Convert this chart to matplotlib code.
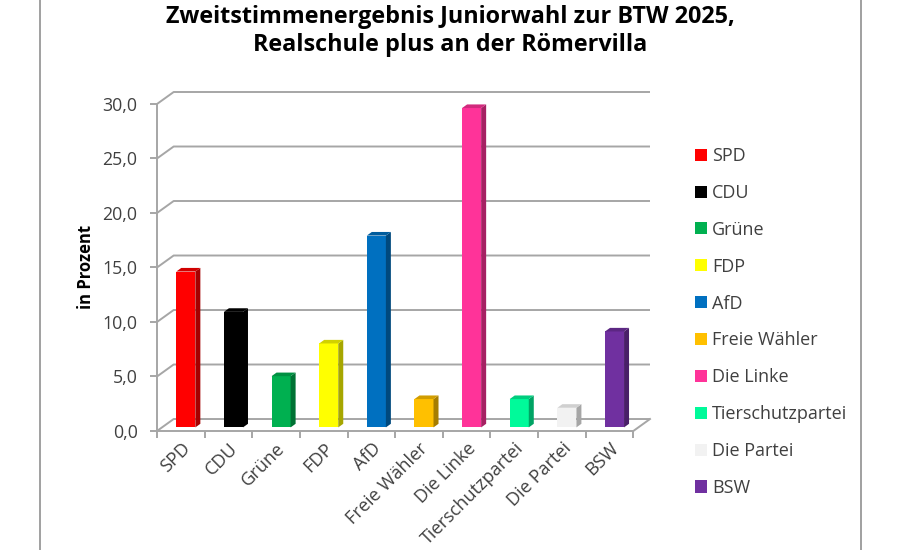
import matplotlib
matplotlib.use("Agg")
import matplotlib.pyplot as plt
from matplotlib.patches import Polygon, Patch
from matplotlib.colors import to_rgb
from matplotlib.lines import Line2D
import matplotlib.transforms as mtransforms

# ---- data ----
parties = ["SPD", "CDU", "Grüne", "FDP", "AfD", "Freie Wähler", "Die Linke",
           "Tierschutzpartei", "Die Partei", "BSW"]
values = [14.3, 10.6, 4.7, 7.7, 17.6, 2.6, 29.3, 2.6, 1.8, 8.8]
colors = ["#FF0000", "#000000", "#00B050", "#FFFF00", "#0070C0", "#FFC000",
          "#FF3399", "#00FA9A", "#F2F2F2", "#7030A0"]
yticks = [0, 5, 10, 15, 20, 25, 30]
yticklabels = ["0,0", "5,0", "10,0", "15,0", "20,0", "25,0", "30,0"]
title = "Zweitstimmenergebnis Juniorwahl zur BTW 2025,\nRealschule plus an der Römervilla"
ylabel = "in Prozent"

FONT = ["Open Sans", "DejaVu Sans"]
plt.rcParams["font.family"] = FONT

W, H = 900, 550
fig = plt.figure(figsize=(9, 5.5), dpi=100)
fig.patch.set_facecolor("white")

# outer chart border (cropped frame)
for xb in (40, 861):
    fig.add_artist(Line2D([xb / W, xb / W], [0, 1], color="#A0A0A0", lw=1.4,
                          transform=fig.transFigure))

ax = fig.add_axes([157 / W, 1 - 431 / H, (650 - 157) / W, (431 - 92) / H])
n = len(parties)
DX, DY = 0.35, 1.1          # perspective depth offset (category units, value units)
ax.set_xlim(0, n + DX)
ax.set_ylim(0, 30 + DY)
for s in ax.spines.values():
    s.set_visible(False)
ax.set_facecolor("none")

grid_c = "#A6A6A6"
lw = 1.4
for v in yticks:
    ax.plot([0, DX, n + DX], [v, v + DY, v + DY], color=grid_c, lw=lw,
            clip_on=False, zorder=1, solid_capstyle="butt")
ax.plot([0, 0], [0, 30], color=grid_c, lw=lw, clip_on=False, zorder=1)
ax.plot([0, n, n + DX], [0, 0, DY], color=grid_c, lw=lw, clip_on=False, zorder=1)

# bars (pseudo 3-D)
bw = 0.4
f1, bd = 0.3, 0.3
def shade(c, k):
    r, g, b = to_rgb(c)
    return (r * k, g * k, b * k)

for i, (v, c) in enumerate(zip(values, colors)):
    xl = i + 0.5 - bw / 2 + f1 * DX
    xr = xl + bw
    y0 = f1 * DY
    yt = v + f1 * DY
    ox, oy = bd * DX, bd * DY
    ax.bar(xl, v, width=bw, bottom=y0, align="edge", color=c, zorder=3,
           linewidth=0)
    ax.add_patch(Polygon([(xr, y0), (xr + ox, y0 + oy), (xr + ox, yt + oy), (xr, yt)],
                         closed=True, facecolor=shade(c, 0.65) if c != "#F2F2F2" else "#A6A6A6",
                         edgecolor="none", zorder=3, clip_on=False))
    ax.add_patch(Polygon([(xl, yt), (xr, yt), (xr + ox, yt + oy), (xl + ox, yt + oy)],
                         closed=True, facecolor=shade(c, 0.82) if c != "#F2F2F2" else "#D0D0D0",
                         edgecolor="none", zorder=3, clip_on=False))

# y axis ticks
ax.set_yticks(yticks)
ax.set_yticklabels(yticklabels, fontsize=12.8, color="#404040")
ax.tick_params(axis="y", length=5, width=lw, color=grid_c, pad=9)

# x axis ticks
ax.set_xticks([i + 0.5 for i in range(n)])
ax.set_xticklabels(parties, fontsize=13.1, color="#404040", rotation=45,
                   ha="right", va="top", rotation_mode="anchor")
shift = mtransforms.ScaledTranslation(3 / 100, 0, fig.dpi_scale_trans)
for lab in ax.get_xticklabels():
    lab.set_transform(lab.get_transform() + shift)
ax.set_xticks(list(range(n + 1)), minor=True)
ax.tick_params(axis="x", which="major", length=0, pad=6)
ax.tick_params(axis="x", which="minor", length=5, width=lw, color=grid_c)

ax.set_ylabel(ylabel, fontsize=12, fontweight="bold", color="black")
ax.yaxis.set_label_coords((95 - 157) / 493, 0.484)

fig.text(0.5, 1 - 31 / H, title, ha="center", va="center", fontsize=16.8,
         fontweight="bold", linespacing=1.2, color="black")

handles = [Patch(facecolor=c, edgecolor="none") for c in colors]
fig.legend(handles, parties, loc="upper left",
           bbox_to_anchor=(686 / W, 1 - 138 / H), frameon=False,
           fontsize=13, handlelength=0.65, handleheight=0.65, handletextpad=0.3,
           labelspacing=1.045, borderpad=0, labelcolor="#404040")

fig.savefig("out.png", dpi=100, facecolor="white")
